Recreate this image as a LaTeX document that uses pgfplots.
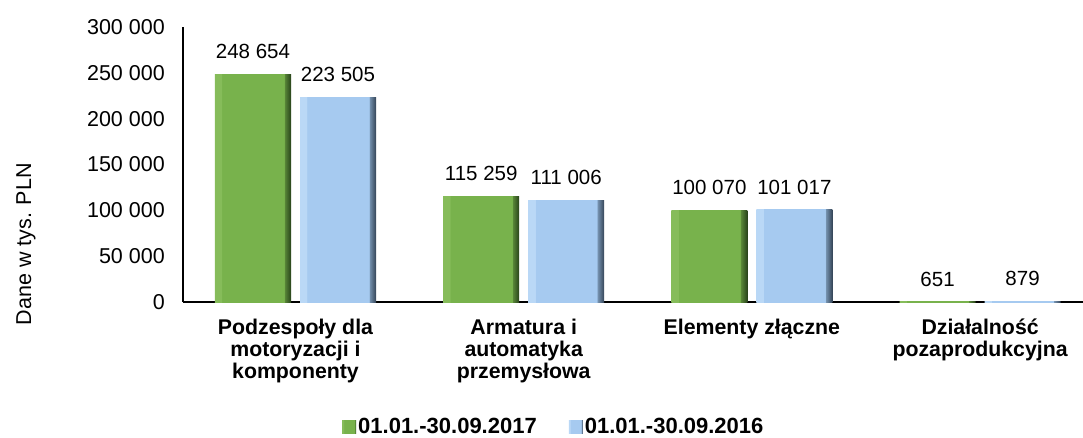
\documentclass[border=0pt]{standalone}
\usepackage{fontspec}
\setmainfont{Liberation Sans}
\usepackage{pgfplots}
\pgfplotsset{compat=1.18}
\definecolor{gL}{RGB}{134,188,90}
\definecolor{gB}{RGB}{120,178,76}
\definecolor{gD}{RGB}{92,140,58}
\definecolor{gDD}{RGB}{40,66,26}
\definecolor{bL}{RGB}{186,216,246}
\definecolor{bB}{RGB}{166,202,240}
\definecolor{bD}{RGB}{120,150,180}
\definecolor{bDD}{RGB}{52,68,86}
\pgfdeclarehorizontalshading{greenbar}{100bp}{color(0bp)=(gL); color(25bp)=(gL); color(29.5bp)=(gL); color(29.6bp)=(gB); color(70.4bp)=(gB); color(70.5bp)=(gD); color(75bp)=(gDD); color(100bp)=(gDD)}
\pgfdeclarehorizontalshading{bluebar}{100bp}{color(0bp)=(bL); color(25bp)=(bL); color(29.5bp)=(bL); color(29.6bp)=(bB); color(70.4bp)=(bB); color(70.5bp)=(bD); color(75bp)=(bDD); color(100bp)=(bDD)}
\pgfplotsset{
  gbar/.style={shade, shading=greenbar, draw=none, bar shift=-42.5pt},
  bbar/.style={shade, shading=bluebar, draw=none, bar shift=42.5pt},
}
\begin{document}
\begin{tikzpicture}
\begin{axis}[
  name=ax,
  scale only axis,
  width=900pt, height=275pt,
  xmin=-0.493, xmax=3.451,
  ymin=0, ymax=300000,
  ybar, bar width=76pt,
  axis x line*=bottom, axis y line*=left,
  axis line style={-, line width=1.6pt, black},
  major tick length=0pt,
  xtick={0,1,2,3},
  xticklabels={{Podzespoły dla\\motoryzacji i\\komponenty},{Armatura i\\automatyka\\przemysłowa},{Elementy złączne},{Działalność\\pozaprodukcyjna}},
  xticklabel style={align=center, anchor=north, inner sep=0pt, yshift=-17pt, font=\fontsize{21.3}{22}\selectfont\bfseries},
  ytick={0,50000,100000,150000,200000,250000,300000},
  yticklabels={0,50 000,100 000,150 000,200 000,250 000,300 000},
  yticklabel style={anchor=east, inner sep=0pt, xshift=-18pt, font=\fontsize{21.5}{24}\selectfont},
  scaled y ticks=false,
  point meta=explicit symbolic,
  nodes near coords,
  every node near coord/.append style={anchor=south, inner sep=0pt, yshift=15pt, font=\fontsize{20.5}{24}\selectfont, black},
  ylabel={Dane w tys. PLN},
  every axis y label/.style={at={(rel axis cs:0,0.21)}, rotate=90, anchor=center, yshift=157pt, font=\fontsize{21.5}{24}\selectfont},
  legend style={at={(rel axis cs:0.412,-0.4545)}, anchor=center, draw=none, fill=none, legend columns=2, font=\fontsize{22}{24}\selectfont\bfseries, inner sep=0pt,
    nodes={inner xsep=2pt, inner ysep=0pt},
    /tikz/every even column/.append style={column sep=30pt}},
  legend cell align=left,
]
\addplot[gbar, legend image code/.code={\shade[shading=greenbar] (0pt,-6.5pt) rectangle (14pt,6.5pt);}]
  coordinates {(0,248654) [248 654]};
\addplot[bbar, legend image code/.code={\shade[shading=bluebar] (0pt,-6.5pt) rectangle (14pt,6.5pt);}]
  coordinates {(0,223505) [223 505]};
\addplot[gbar, forget plot] coordinates {(1,115259) [115 259]};
\addplot[gbar, forget plot] coordinates {(2,100070) [100 070]};
\addplot[gbar, forget plot] coordinates {(3,651) [651]};
\addplot[bbar, forget plot] coordinates {(1,111006) [111 006]};
\addplot[bbar, forget plot] coordinates {(2,101017) [101 017]};
\addplot[bbar, forget plot] coordinates {(3,879) [879]};
\legend{01.01.-30.09.2017, 01.01.-30.09.2016}
\end{axis}
\pgfresetboundingbox
\useasboundingbox ([shift={(-183pt,-135pt)}]ax.south west) rectangle ([shift={(900pt,302pt)}]ax.south west);
\end{tikzpicture}
\end{document}
